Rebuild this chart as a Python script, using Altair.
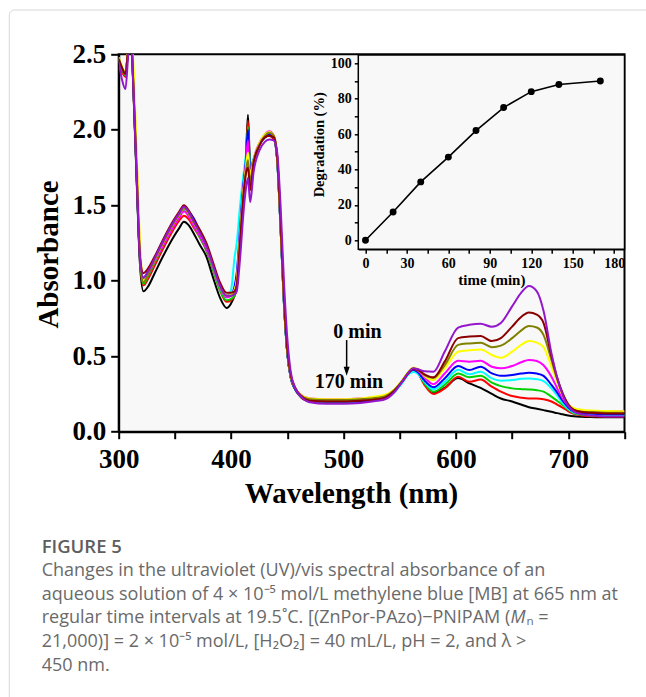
import altair as alt
import pandas as pd

# ---------------- UV/vis spectra (absorbance vs wavelength) ----------------
wavelength_nm = [300, 303, 306, 309, 311, 313, 316, 319, 322, 326, 332, 340, 348, 354, 358, 362, 367, 372,
                 378, 384, 390, 396, 400, 403, 405, 408, 411, 413, 415, 417, 420, 425, 430, 434, 438, 441,
                 444, 447, 450, 453, 457, 462, 470, 485, 500, 515, 530, 537, 545, 552, 558, 562, 566, 572,
                 580, 590, 602, 612, 622, 632, 640, 650, 658, 665, 672, 678, 685, 690, 695, 700, 705, 712,
                 720, 735, 750]

abs_black = [2.47, 2.40, 2.36, 2.58, 2.62, 2.28, 1.66, 1.10, 0.93, 0.96, 1.05, 1.17, 1.28, 1.35, 1.39, 1.37, 1.31, 1.24,
             1.16, 1.02, 0.89, 0.82, 0.85, 0.90, 0.96, 1.28, 1.62, 1.78, 2.10, 1.76, 1.80, 1.90, 1.95, 1.96, 1.94, 1.80,
             1.35, 0.85, 0.52, 0.36, 0.28, 0.23, 0.20, 0.19, 0.19, 0.20, 0.21, 0.22, 0.27, 0.33, 0.39, 0.41, 0.40, 0.33,
             0.26, 0.29, 0.355, 0.32, 0.29, 0.25, 0.22, 0.20, 0.18, 0.162, 0.152, 0.143, 0.132, 0.123, 0.115, 0.107, 0.102, 0.099,
             0.097, 0.095, 0.095]
abs_red = [2.41, 2.38, 2.35, 2.58, 2.62, 2.28, 1.68, 1.12, 0.97, 1.01, 1.10, 1.22, 1.33, 1.40, 1.43, 1.41, 1.35, 1.29,
           1.20, 1.07, 0.94, 0.86, 0.87, 0.90, 0.95, 1.28, 1.62, 1.76, 2.06, 1.72, 1.80, 1.90, 1.95, 1.96, 1.94, 1.80,
           1.35, 0.86, 0.52, 0.36, 0.28, 0.23, 0.20, 0.19, 0.19, 0.20, 0.21, 0.22, 0.27, 0.33, 0.39, 0.41, 0.39, 0.31,
           0.25, 0.287, 0.364, 0.331, 0.345, 0.298, 0.265, 0.236, 0.225, 0.22, 0.22, 0.215, 0.20, 0.18, 0.16, 0.135, 0.118, 0.108,
           0.103, 0.10, 0.10]
abs_green = [2.46, 2.40, 2.36, 2.58, 2.62, 2.30, 1.68, 1.13, 0.98, 1.03, 1.12, 1.24, 1.35, 1.43, 1.47, 1.44, 1.36, 1.29,
             1.20, 1.07, 0.94, 0.87, 0.88, 0.90, 0.95, 1.28, 1.62, 1.76, 2.02, 1.72, 1.80, 1.90, 1.95, 1.97, 1.95, 1.80,
             1.36, 0.86, 0.52, 0.36, 0.28, 0.235, 0.205, 0.195, 0.195, 0.20, 0.21, 0.225, 0.27, 0.33, 0.39, 0.405, 0.39, 0.32,
             0.265, 0.31, 0.386, 0.36, 0.37, 0.325, 0.302, 0.287, 0.282, 0.28, 0.275, 0.265, 0.232, 0.205, 0.177, 0.145, 0.122, 0.112,
             0.108, 0.105, 0.105]
abs_cyan = [2.47, 2.41, 2.37, 2.58, 2.62, 2.30, 1.70, 1.15, 1.02, 1.06, 1.15, 1.26, 1.37, 1.44, 1.47, 1.45, 1.38, 1.31,
            1.22, 1.09, 0.96, 0.89, 0.94, 1.15, 1.25, 1.50, 1.70, 1.82, 1.97, 1.76, 1.81, 1.90, 1.95, 1.975, 1.95, 1.80,
            1.35, 0.85, 0.52, 0.36, 0.28, 0.235, 0.205, 0.20, 0.20, 0.20, 0.21, 0.22, 0.26, 0.32, 0.38, 0.395, 0.385, 0.33,
            0.28, 0.33, 0.41, 0.38, 0.397, 0.353, 0.338, 0.342, 0.35, 0.353, 0.348, 0.335, 0.287, 0.24, 0.19, 0.15, 0.126, 0.117,
            0.115, 0.11, 0.11]
abs_blue = [2.47, 2.41, 2.37, 2.58, 2.62, 2.30, 1.68, 1.14, 1.02, 1.06, 1.15, 1.27, 1.38, 1.45, 1.48, 1.46, 1.41, 1.33,
            1.23, 1.10, 0.97, 0.90, 0.91, 0.96, 1.05, 1.35, 1.64, 1.78, 2.00, 1.73, 1.80, 1.90, 1.95, 1.97, 1.95, 1.80,
            1.36, 0.86, 0.52, 0.36, 0.28, 0.235, 0.205, 0.20, 0.20, 0.20, 0.215, 0.225, 0.27, 0.33, 0.39, 0.41, 0.395, 0.34,
            0.294, 0.353, 0.435, 0.408, 0.43, 0.386, 0.37, 0.375, 0.385, 0.39, 0.385, 0.37, 0.31, 0.26, 0.205, 0.16, 0.133, 0.124,
            0.12, 0.115, 0.115]
abs_magenta = [2.47, 2.41, 2.37, 2.58, 2.62, 2.35, 1.80, 1.20, 1.00, 1.04, 1.13, 1.24, 1.35, 1.42, 1.46, 1.43, 1.36, 1.30,
               1.21, 1.09, 0.96, 0.89, 0.90, 0.93, 1.00, 1.30, 1.62, 1.76, 1.93, 1.65, 1.80, 1.91, 1.97, 1.99, 1.96, 1.82,
               1.38, 0.88, 0.54, 0.37, 0.29, 0.245, 0.22, 0.215, 0.215, 0.22, 0.23, 0.235, 0.27, 0.33, 0.39, 0.415, 0.405, 0.36,
               0.315, 0.386, 0.47, 0.464, 0.47, 0.43, 0.42, 0.435, 0.46, 0.475, 0.468, 0.44, 0.364, 0.29, 0.22, 0.17, 0.145, 0.138,
               0.137, 0.136, 0.136]
abs_yellow = [2.48, 2.42, 2.38, 2.60, 2.64, 2.45, 1.85, 1.25, 1.00, 1.05, 1.14, 1.26, 1.37, 1.44, 1.48, 1.45, 1.38, 1.32,
              1.23, 1.10, 0.97, 0.90, 0.91, 0.94, 1.00, 1.30, 1.60, 1.74, 1.85, 1.70, 1.80, 1.91, 1.97, 1.985, 1.96, 1.82,
              1.38, 0.88, 0.54, 0.37, 0.29, 0.245, 0.22, 0.215, 0.215, 0.22, 0.235, 0.245, 0.28, 0.34, 0.40, 0.425, 0.415, 0.37,
              0.342, 0.42, 0.53, 0.54, 0.545, 0.508, 0.49, 0.53, 0.575, 0.60, 0.59, 0.56, 0.43, 0.33, 0.238, 0.18, 0.155, 0.145,
              0.14, 0.137, 0.135]
abs_olive = [2.47, 2.41, 2.37, 2.58, 2.62, 2.32, 1.72, 1.16, 0.99, 1.04, 1.14, 1.26, 1.37, 1.44, 1.48, 1.45, 1.38, 1.32,
             1.23, 1.10, 0.97, 0.90, 0.90, 0.92, 0.97, 1.28, 1.58, 1.72, 1.80, 1.65, 1.79, 1.90, 1.96, 1.98, 1.96, 1.82,
             1.38, 0.88, 0.53, 0.37, 0.29, 0.24, 0.215, 0.21, 0.21, 0.215, 0.225, 0.235, 0.275, 0.335, 0.395, 0.42, 0.41, 0.375,
             0.355, 0.44, 0.575, 0.585, 0.59, 0.56, 0.57, 0.62, 0.67, 0.70, 0.69, 0.64, 0.475, 0.35, 0.25, 0.18, 0.144, 0.133,
             0.13, 0.126, 0.125]
abs_maroon = [2.47, 2.41, 2.37, 2.58, 2.62, 2.30, 1.70, 1.15, 1.05, 1.08, 1.16, 1.28, 1.39, 1.46, 1.50, 1.47, 1.40, 1.34,
              1.25, 1.12, 0.99, 0.92, 0.92, 0.93, 0.97, 1.26, 1.56, 1.70, 1.75, 1.60, 1.78, 1.89, 1.95, 1.96, 1.95, 1.82,
              1.40, 0.90, 0.55, 0.38, 0.29, 0.24, 0.205, 0.20, 0.20, 0.205, 0.215, 0.225, 0.27, 0.33, 0.39, 0.415, 0.41, 0.38,
              0.36, 0.464, 0.62, 0.63, 0.634, 0.60, 0.62, 0.696, 0.76, 0.79, 0.775, 0.72, 0.50, 0.36, 0.254, 0.18, 0.144, 0.13,
              0.125, 0.12, 0.12]
abs_purple = [2.45, 2.33, 2.27, 2.55, 2.62, 2.30, 1.70, 1.15, 1.02, 1.06, 1.15, 1.27, 1.38, 1.45, 1.49, 1.46, 1.39, 1.32,
              1.23, 1.10, 0.97, 0.90, 0.90, 0.91, 0.93, 1.15, 1.45, 1.60, 1.68, 1.52, 1.72, 1.86, 1.92, 1.935, 1.93, 1.85,
              1.50, 1.00, 0.62, 0.40, 0.29, 0.235, 0.195, 0.185, 0.185, 0.19, 0.205, 0.215, 0.26, 0.33, 0.395, 0.42, 0.415, 0.40,
              0.397, 0.53, 0.69, 0.708, 0.715, 0.695, 0.72, 0.83, 0.92, 0.965, 0.93, 0.80, 0.52, 0.36, 0.243, 0.17, 0.133, 0.115,
              0.108, 0.10, 0.10]

# drawn from the last sample (bottom at 665 nm) up to the first (top at 665 nm)
series_names = ["black", "red", "green", "cyan", "blue", "magenta", "yellow", "olive", "maroon", "purple"]
series_colors = ["#000000", "#ff0000", "#00d000", "#00ffff", "#0000ff", "#ff00ff", "#ffff00", "#808000", "#8b0000", "#9417cc"]
series_values = [abs_black, abs_red, abs_green, abs_cyan, abs_blue, abs_magenta, abs_yellow, abs_olive, abs_maroon, abs_purple]

# ---------------- inset: degradation vs time ----------------
time_min = [0, 20, 40, 60, 80, 100, 120, 140, 170]
degradation_pct = [0, 16, 33, 47, 62, 75, 84, 88, 90]

rows = []
for name, vals in zip(series_names, series_values):
    for w, a in zip(wavelength_nm, vals):
        rows.append({"wavelength": w, "absorbance": a, "series": name})
spectra_df = pd.DataFrame(rows)
inset_df = pd.DataFrame({"time": time_min, "degradation": degradation_pct})

# ---------------- geometry of the figure ----------------
PAD_L, PAD_T = 118.7, 54.3
W, H = 505.8, 377.4
SERIF = "Liberation Serif"
one = alt.Data(values=[{}])

x_main = alt.Scale(domain=[300, 750], nice=False, zero=False)
y_main = alt.Scale(domain=[0, 2.5], nice=False, zero=False)

x_axis_main = alt.Axis(
    values=list(range(300, 751, 50)), format="d",
    labelExpr="datum.value % 100 == 0 && datum.value < 750 ? datum.label : ''",
    title="Wavelength (nm)", titleX=232.3, titleY=70.5, titleAlign="center", titleBaseline="alphabetic",
    titleFont=SERIF, titleFontSize=29, titleFontWeight="bold", titleColor="black",
    labelFont=SERIF, labelFontSize=27, labelFontWeight="bold", labelColor="black", labelPadding=8,
    tickSize=7, tickWidth=2, tickColor="black", domainColor="black", domainWidth=2, grid=False, labelFlush=False,
)
y_axis_main = alt.Axis(
    values=[i * 0.25 for i in range(11)],
    labelExpr="(datum.value * 2) % 1 == 0 ? format(datum.value, '.1f') : ''",
    title="Absorbance", titleX=-60.7, titleY=199.7, titleAngle=270, titleAlign="center", titleBaseline="alphabetic",
    titleFont=SERIF, titleFontSize=29, titleFontWeight="bold", titleColor="black",
    labelFont=SERIF, labelFontSize=27, labelFontWeight="bold", labelColor="black", labelPadding=5,
    tickSize=8, tickWidth=2, tickColor="black", domainColor="black", domainWidth=2, grid=False, labelFlush=False,
)

spectra = alt.Chart(spectra_df).mark_line(clip=True, strokeWidth=2, interpolate="monotone").encode(
    x=alt.X("wavelength:Q", scale=x_main, axis=x_axis_main),
    y=alt.Y("absorbance:Q", scale=y_main, axis=y_axis_main),
    color=alt.Color("series:N", scale=alt.Scale(domain=series_names, range=series_colors), legend=None),
)

# "0 min -> 170 min" arrow annotation
lbl_0 = alt.Chart(one).mark_text(font=SERIF, fontSize=20, fontWeight="bold", color="black").encode(
    x=alt.X(datum=512.4, scale=x_main), y=alt.Y(datum=0.66, scale=y_main), text=alt.value("0 min"))
lbl_170 = alt.Chart(one).mark_text(font=SERIF, fontSize=20, fontWeight="bold", color="black").encode(
    x=alt.X(datum=504.8, scale=x_main), y=alt.Y(datum=0.33, scale=y_main), text=alt.value("170 min"))
shaft = alt.Chart(one).mark_rule(strokeWidth=1.5, color="black").encode(
    x=alt.X(datum=502.8, scale=x_main), y=alt.Y(datum=0.607, scale=y_main), y2=alt.Y2(datum=0.42))
head = alt.Chart(one).mark_point(shape="M-1,-1.5L1,-1.5L0,1.5Z", size=36, filled=True, color="black", opacity=1).encode(
    x=alt.X(datum=502.8, scale=x_main), y=alt.Y(datum=0.40, scale=y_main))

main = alt.layer(spectra, shaft, head, lbl_0, lbl_170)

# inset panel, placed inside the upper right of the main plot
x_in_dom = [-5.2, 187.5]
y_in_dom = [-5.1, 104.7]
x_in = alt.Scale(domain=x_in_dom, range=[239.6, 505.8], nice=False, zero=False)
y_in = alt.Scale(domain=y_in_dom, range=[195.0, 0.7], nice=False, zero=False)
x_axis_in = alt.Axis(
    orient="bottom", offset=-182.4, values=list(range(0, 181, 15)),
    labelExpr="datum.value % 30 == 0 ? datum.label : ''",
    title="time (min)", titlePadding=2,
    titleFont=SERIF, titleFontSize=15, titleFontWeight="bold", titleColor="black",
    labelFont=SERIF, labelFontSize=14, labelFontWeight="bold", labelColor="black", labelPadding=3,
    tickSize=4, tickWidth=1.5, tickColor="black", domainColor="black", domainWidth=1.5, grid=False, labelFlush=False,
)
y_axis_in = alt.Axis(
    orient="left", offset=-239.6, values=list(range(0, 101, 10)),
    labelExpr="datum.value % 20 == 0 ? datum.label : ''",
    title="Degradation (%)", titlePadding=4, titleY=90,
    titleFont=SERIF, titleFontSize=14.5, titleFontWeight="bold", titleColor="black",
    labelFont=SERIF, labelFontSize=14, labelFontWeight="bold", labelColor="black", labelPadding=3,
    tickSize=4, tickWidth=1.5, tickColor="black", domainColor="black", domainWidth=1.5, grid=False, labelFlush=False,
)

inset_frame = alt.Chart(one).mark_rect(fill="#f8f8f8", stroke="black", strokeWidth=1.5).encode(
    x=alt.X(datum=x_in_dom[0], scale=x_in, axis=x_axis_in), x2=alt.X2(datum=x_in_dom[1]),
    y=alt.Y(datum=y_in_dom[0], scale=y_in, axis=y_axis_in), y2=alt.Y2(datum=y_in_dom[1]),
)
inset_line = alt.Chart(inset_df).mark_line(color="black", strokeWidth=1.6).encode(
    x=alt.X("time:Q", scale=x_in, axis=x_axis_in), y=alt.Y("degradation:Q", scale=y_in, axis=y_axis_in))
inset_pts = alt.Chart(inset_df).mark_circle(color="black", size=48, opacity=1).encode(
    x=alt.X("time:Q", scale=x_in, axis=x_axis_in), y=alt.Y("degradation:Q", scale=y_in, axis=y_axis_in))
inset = alt.layer(inset_frame, inset_line, inset_pts)

# card outline and caption underneath the figure
card = alt.Chart(one).mark_rect(fill=None, stroke="#d8d8d8", strokeWidth=1, cornerRadius=5).encode(
    x=alt.value(9.3 - PAD_L), x2=alt.value(700), y=alt.value(10 - PAD_T), y2=alt.value(800))

CAP_FONT = "Open Sans"
CAP_SIZE = 18
CAP_COLOR = "#6a6a6a"
X0 = 41.7 - PAD_L
cap_title = alt.Chart(one).mark_text(font=CAP_FONT, fontSize=18.5, fontWeight=600, color="#5e5e5e",
                                     align="left", baseline="alphabetic").encode(
    x=alt.value(X0), y=alt.value(553 - PAD_T), text=alt.value("FIGURE 5"))

caption_lines = [
    "Changes in the ultraviolet (UV)/vis spectral absorbance of an",
    "aqueous solution of 4 \u00d7 10\u207b\u2075 mol/L methylene blue [MB] at 665 nm at",
    "regular time intervals at 19.5\u02daC. [(ZnPor-PAzo)\u2212PNIPAM (",
    "21,000)] = 2 \u00d7 10\u207b\u2075 mol/L, [H\u2082O\u2082] = 40 mL/L, pH = 2, and \u03bb >",
    "450 nm.",
]
cap_baselines = [576, 599.7, 623.4, 647.1, 670.8]


def cap_text(txt, x, yb, style="normal"):
    return alt.Chart(one).mark_text(font=CAP_FONT, fontSize=CAP_SIZE, fontStyle=style, color=CAP_COLOR,
                                    align="left", baseline="alphabetic").encode(
        x=alt.value(x), y=alt.value(yb - PAD_T), text=alt.value(txt))


cap_layers = [cap_text(t, X0, yb) for t, yb in zip(caption_lines, cap_baselines)]
# italic molecular-weight symbol continuing the third line
cap_layers.append(cap_text("M", 510.5 - PAD_L, cap_baselines[2], "italic"))
cap_layers.append(cap_text("\u2099 =", 526.5 - PAD_L, cap_baselines[2]))

chart = alt.layer(card, main, inset, cap_title, *cap_layers).resolve_scale(
    x="independent", y="independent"
).properties(
    width=W, height=H,
    padding={"left": PAD_L, "top": PAD_T, "right": 646 - PAD_L - W, "bottom": 697 - PAD_T - H},
    autosize=alt.AutoSizeParams(type="none"),
).configure(background="white").configure_view(fill="#f8f8f8", stroke="black", strokeWidth=2)

chart.save("out.html", embed_options={"renderer": "svg", "actions": False})
